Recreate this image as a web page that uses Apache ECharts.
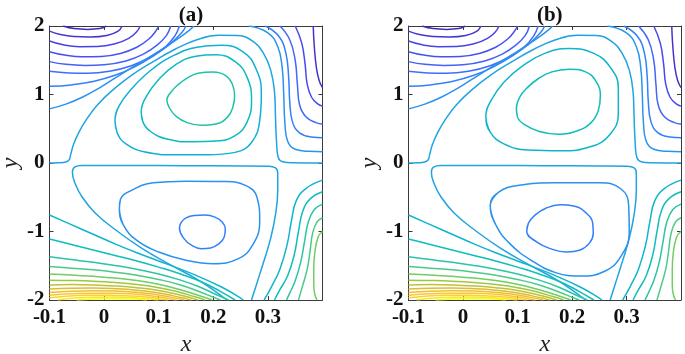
<!DOCTYPE html>
<html><head><meta charset="utf-8">
<script src="https://cdn.jsdelivr.net/npm/echarts@6/dist/echarts.min.js"></script>
<style>html,body{margin:0;padding:0;background:#fff}#c{width:685px;height:354px}</style>
</head><body><div id="c"></div>
<script>
// ---- axis ticks ----
const xTicks = [-0.1, 0, 0.1, 0.2, 0.3];
const yTicks = [-2, -1, 0, 1, 2];
const panelTitles = ['(a)', '(b)'];

// ---- contour lines: [x, y] points ----
// top-left family (around the minimum above the top-left corner)
const tl0 = [[-0.075,2],[-0.055,1.962],[-0.03,1.95],[-0.008,1.962],[0.004,2]];
const tl1 = [[-0.1,1.925],[-0.08,1.875],[-0.055,1.845],[-0.025,1.838],[0.005,1.86],[0.025,1.92],[0.033,2]];
const tl2 = [[-0.1,1.78],[-0.075,1.725],[-0.045,1.698],[-0.012,1.7],[0.02,1.74],[0.045,1.82],[0.06,1.92],[0.066,2]];
const tl3 = [[-0.1,1.625],[-0.072,1.575],[-0.04,1.55],[-0.005,1.555],[0.03,1.6],[0.06,1.69],[0.082,1.81],[0.095,1.93],[0.1,2]];
const tl4 = [[-0.1,1.48],[-0.07,1.44],[-0.035,1.425],[0.0,1.435],[0.04,1.49],[0.072,1.59],[0.097,1.72],[0.114,1.86],[0.122,2]];
const tl5 = [[-0.1,1.34],[-0.065,1.315],[-0.03,1.31],[0.01,1.34],[0.05,1.42],[0.085,1.55],[0.113,1.7],[0.13,1.86],[0.138,2]];
const tl6 = [[-0.1,1.12],[-0.06,1.14],[-0.02,1.19],[0.02,1.28],[0.055,1.4],[0.09,1.56],[0.12,1.73],[0.142,1.9],[0.15,2]];
const tl7 = [[-0.1,0.79],[-0.07,0.86],[-0.04,0.96],[-0.01,1.09],[0.02,1.24],[0.05,1.39],[0.08,1.53],[0.11,1.68],[0.14,1.84],[0.158,1.95],[0.164,2]];
// upper separatrix-like line
const upSep = [[-0.1,0],[-0.083,0.003],[-0.07,0.014],[-0.064,0.045],[-0.061,0.13],[-0.056,0.27],[-0.046,0.45],[-0.032,0.64],[-0.012,0.85],[0.015,1.06],[0.05,1.28],[0.09,1.48],[0.13,1.66],[0.17,1.8],[0.21,1.865],[0.245,1.86],[0.272,1.78],[0.292,1.6],[0.305,1.36],[0.312,1.05],[0.314,0.65],[0.316,0.28],[0.319,0.08],[0.327,0.018],[0.345,0.003],[0.4,0]];
// upper closed loops (a)
const aUp3 = [[0.02,0.62],[0.028,0.84],[0.05,1.08],[0.085,1.35],[0.125,1.56],[0.17,1.69],[0.215,1.72],[0.255,1.62],[0.278,1.38],[0.288,1.02],[0.285,0.62],[0.27,0.3],[0.24,0.155],[0.19,0.12],[0.13,0.12],[0.075,0.16],[0.04,0.28],[0.024,0.44]];
const aUp2 = [[0.068,0.75],[0.078,0.98],[0.1,1.22],[0.13,1.43],[0.168,1.56],[0.205,1.58],[0.24,1.48],[0.262,1.25],[0.27,0.92],[0.262,0.6],[0.24,0.4],[0.205,0.32],[0.16,0.31],[0.115,0.35],[0.085,0.46],[0.071,0.6]];
const aUp1 = [[0.115,0.92],[0.122,1.03],[0.135,1.14],[0.152,1.24],[0.172,1.31],[0.2,1.33],[0.222,1.28],[0.235,1.15],[0.239,0.98],[0.236,0.82],[0.226,0.67],[0.205,0.57],[0.178,0.55],[0.152,0.59],[0.132,0.68],[0.12,0.8]];
// top-right family
const tr1 = [[0.383,2],[0.385,1.7],[0.389,1.38],[0.394,1.2],[0.4,1.1]];
const tr2 = [[0.35,2],[0.362,1.75],[0.368,1.45],[0.372,1.15],[0.38,0.96],[0.392,0.86],[0.4,0.83]];
const tr3 = [[0.322,2],[0.34,1.8],[0.35,1.5],[0.354,1.15],[0.358,0.85],[0.37,0.67],[0.388,0.59],[0.4,0.57]];
const tr4 = [[0.295,2],[0.32,1.85],[0.333,1.6],[0.338,1.25],[0.34,0.9],[0.345,0.6],[0.358,0.44],[0.38,0.38],[0.4,0.37]];
const tr5 = [[0.265,2],[0.3,1.9],[0.318,1.7],[0.326,1.4],[0.329,1.0],[0.331,0.6],[0.336,0.32],[0.35,0.2],[0.375,0.17],[0.4,0.165]];
// lower separatrix-like line (open at the bottom)
const loSep = [[0.225,-2],[0.175,-1.72],[0.12,-1.48],[0.07,-1.25],[0.025,-1.0],[-0.015,-0.74],[-0.04,-0.5],[-0.053,-0.3],[-0.058,-0.14],[-0.054,-0.06],[-0.04,-0.038],[0.05,-0.035],[0.15,-0.04],[0.25,-0.043],[0.3,-0.048],[0.314,-0.07],[0.318,-0.15],[0.318,-0.4],[0.314,-0.75],[0.305,-1.1],[0.292,-1.45],[0.28,-1.75],[0.27,-2]];
// lower closed loops (a)
const aLo2 = [[0.028,-0.66],[0.035,-0.9],[0.06,-1.13],[0.1,-1.3],[0.15,-1.42],[0.2,-1.47],[0.245,-1.4],[0.272,-1.2],[0.285,-0.85],[0.28,-0.5],[0.26,-0.33],[0.22,-0.27],[0.15,-0.265],[0.09,-0.29],[0.05,-0.4],[0.03,-0.53]];
const aLo1 = [[0.138,-0.95],[0.141,-0.87],[0.15,-0.8],[0.165,-0.765],[0.185,-0.76],[0.203,-0.79],[0.216,-0.86],[0.222,-0.96],[0.22,-1.08],[0.21,-1.18],[0.195,-1.24],[0.178,-1.25],[0.16,-1.2],[0.146,-1.1]];
// bottom-left fan (around the maximum at the bottom edge)
const bl9  = [[-0.1,-0.76],[-0.06,-0.9],[-0.02,-1.04],[0.02,-1.18],[0.06,-1.31],[0.1,-1.43],[0.14,-1.55],[0.18,-1.68],[0.215,-1.81],[0.24,-1.92],[0.255,-2]];
const bl10 = [[-0.1,-1.11],[-0.06,-1.19],[-0.02,-1.27],[0.02,-1.35],[0.06,-1.43],[0.1,-1.52],[0.14,-1.62],[0.18,-1.74],[0.212,-1.87],[0.24,-2]];
const bl11 = [[-0.1,-1.37],[-0.06,-1.41],[-0.02,-1.45],[0.02,-1.495],[0.06,-1.55],[0.1,-1.62],[0.14,-1.71],[0.175,-1.81],[0.205,-1.92],[0.228,-2]];
const bl12 = [[-0.1,-1.51],[-0.06,-1.535],[-0.02,-1.56],[0.02,-1.595],[0.06,-1.64],[0.1,-1.7],[0.14,-1.78],[0.175,-1.88],[0.2,-1.96],[0.213,-2]];
const bl13 = [[-0.1,-1.62],[-0.06,-1.635],[-0.02,-1.655],[0.02,-1.68],[0.06,-1.715],[0.1,-1.77],[0.135,-1.84],[0.168,-1.92],[0.198,-2]];
const bl14 = [[-0.1,-1.71],[-0.06,-1.715],[-0.02,-1.725],[0.02,-1.745],[0.06,-1.775],[0.1,-1.82],[0.135,-1.88],[0.165,-1.95],[0.185,-2]];
const bl15 = [[-0.1,-1.78],[-0.06,-1.775],[-0.02,-1.78],[0.02,-1.795],[0.06,-1.82],[0.1,-1.86],[0.133,-1.915],[0.16,-1.97],[0.172,-2]];
const bl16 = [[-0.1,-1.84],[-0.06,-1.828],[-0.02,-1.826],[0.02,-1.835],[0.06,-1.856],[0.095,-1.89],[0.127,-1.94],[0.152,-1.985],[0.16,-2]];
const bl17 = [[-0.1,-1.89],[-0.06,-1.872],[-0.02,-1.866],[0.02,-1.87],[0.058,-1.886],[0.092,-1.915],[0.122,-1.958],[0.147,-2]];
const bl18 = [[-0.1,-1.93],[-0.06,-1.91],[-0.02,-1.9],[0.02,-1.902],[0.055,-1.914],[0.088,-1.94],[0.115,-1.975],[0.133,-2]];
const bl19 = [[-0.1,-1.968],[-0.07,-1.945],[-0.03,-1.932],[0.01,-1.93],[0.048,-1.94],[0.082,-1.96],[0.108,-1.99],[0.117,-2]];
const bl20 = [[-0.085,-2],[-0.06,-1.975],[-0.02,-1.96],[0.02,-1.958],[0.055,-1.966],[0.085,-1.985],[0.1,-2]];
const bl21 = [[-0.05,-2],[-0.02,-1.985],[0.02,-1.98],[0.055,-1.986],[0.078,-2]];
// bottom-right family (around the maximum beyond the right edge)
const br9  = [[0.4,-0.25],[0.37,-0.37],[0.352,-0.55],[0.343,-0.85],[0.335,-1.2],[0.322,-1.55],[0.307,-1.8],[0.293,-2]];
const br10 = [[0.4,-0.42],[0.378,-0.52],[0.364,-0.7],[0.356,-1.0],[0.348,-1.35],[0.336,-1.65],[0.322,-1.85],[0.312,-2]];
const br11 = [[0.4,-0.6],[0.385,-0.68],[0.374,-0.86],[0.367,-1.15],[0.36,-1.45],[0.35,-1.72],[0.34,-1.9],[0.334,-2]];
const br12 = [[0.4,-0.8],[0.39,-0.86],[0.382,-1.02],[0.377,-1.3],[0.372,-1.55],[0.364,-1.78],[0.356,-2]];
const br13 = [[0.4,-1.0],[0.392,-1.08],[0.386,-1.3],[0.384,-1.55],[0.384,-1.78],[0.386,-1.92],[0.39,-2]];

// panel (b): the inner loops differ
const bUp2 = [[0.042,0.68],[0.052,0.92],[0.075,1.18],[0.11,1.42],[0.15,1.6],[0.195,1.67],[0.24,1.6],[0.27,1.4],[0.285,1.1],[0.285,0.72],[0.27,0.42],[0.235,0.24],[0.18,0.18],[0.12,0.19],[0.075,0.28],[0.05,0.45]];
const bUp1 = [[0.098,0.8],[0.104,0.96],[0.118,1.1],[0.138,1.23],[0.163,1.33],[0.195,1.37],[0.225,1.33],[0.245,1.18],[0.252,0.98],[0.248,0.76],[0.235,0.59],[0.21,0.47],[0.175,0.42],[0.14,0.46],[0.113,0.56],[0.1,0.67]];
const bLo2 = [[0.05,-0.62],[0.06,-0.9],[0.085,-1.17],[0.125,-1.42],[0.17,-1.6],[0.215,-1.65],[0.26,-1.58],[0.29,-1.36],[0.305,-1.0],[0.304,-0.62],[0.29,-0.38],[0.25,-0.29],[0.17,-0.29],[0.1,-0.33],[0.065,-0.43]];
const bLo1 = [[0.117,-1.0],[0.12,-0.88],[0.132,-0.76],[0.152,-0.66],[0.178,-0.61],[0.205,-0.63],[0.226,-0.73],[0.238,-0.88],[0.239,-1.03],[0.232,-1.17],[0.215,-1.27],[0.19,-1.3],[0.16,-1.25],[0.135,-1.15]];

// [line, colour position on the colour map (0 = lowest level, 1 = highest), closed?]
const common = [
  [tl0,0.02],[tl1,0.06],[tl2,0.1],[tl3,0.14],[tl4,0.18],[tl5,0.22],[tl6,0.27],[tl7,0.32],[upSep,0.38],
  [tr1,0.05],[tr2,0.12],[tr3,0.2],[tr4,0.27],[tr5,0.33],
  [loSep,0.38],
  [bl9,0.45],[bl10,0.5],[bl11,0.55],[bl12,0.6],[bl13,0.65],[bl14,0.7],[bl15,0.74],[bl16,0.78],[bl17,0.82],[bl18,0.86],[bl19,0.9],[bl20,0.95],[bl21,1.0],
  [br9,0.45],[br10,0.5],[br11,0.55],[br12,0.6],[br13,0.65]
];
const panelA = common.concat([[aUp3,0.43,1],[aUp2,0.48,1],[aUp1,0.53,1],[aLo2,0.32,1],[aLo1,0.27,1]]);
const panelB = common.concat([[bUp2,0.45,1],[bUp1,0.5,1],[bLo2,0.32,1],[bLo1,0.27,1]]);

// MATLAB parula colour stops (style): [position, r, g, b]
const parula = [[0,0.2422,0.1504,0.6603],[5,0.2751,0.2342,0.8710],[9,0.2810,0.3228,0.9579],[14,0.2440,0.4358,0.9988],[18,0.1786,0.5289,0.9682],[23,0.1380,0.6276,0.8973],[27,0.0689,0.6948,0.8394],[31,0.0433,0.7411,0.7394],[36,0.2161,0.7843,0.5923],[41,0.4456,0.8024,0.3909],[45,0.6720,0.7793,0.2227],[50,0.9035,0.7330,0.1774],[54,0.9970,0.7659,0.2199],[59,0.9610,0.8890,0.1537],[63,0.9769,0.9839,0.0805]];
function parulaColor(t){
  const p=Math.max(0,Math.min(1,t))*63;
  let i=0; while(i<parula.length-2 && parula[i+1][0]<p) i++;
  const a=parula[i], b=parula[i+1], f=(p-a[0])/(b[0]-a[0]);
  const c=[1,2,3].map(k=>Math.round(255*(a[k]+(b[k]-a[k])*f)));
  return 'rgb('+c.join(',')+')';
}
// closed loops: wrap points on each side so the smoothing has no corner at the seam
function wrap(pts,closed){
  if(!closed) return pts;
  const n=pts.length;
  return [pts[n-1]].concat(pts,[pts[0],pts[1]]);
}

const grids=[{left:49.5,top:26,width:273,height:274},{left:408.5,top:26,width:272.5,height:274}];
grids.forEach(g=>{g.containLabel=false;g.outerBoundsMode='none';});
const font='"Liberation Serif","Times New Roman",serif';
const opt={animation:false,title:[],grid:grids,xAxis:[],yAxis:[],series:[]};
[panelA,panelB].forEach((lines,gi)=>{
  const g=grids[gi];
  opt.title.push({text:panelTitles[gi],left:g.left+g.width/2,top:0,textAlign:'center',
    textStyle:{fontFamily:font,fontWeight:'bold',fontSize:21,color:'#111'}});
  const axBase={axisLine:{show:true,onZero:false,lineStyle:{color:'#3a3a3a',width:1}},
    axisTick:{show:true,inside:true,length:4,lineStyle:{color:'#3a3a3a'}},splitLine:{show:false}};
  opt.xAxis.push(Object.assign({type:'value',gridIndex:gi,min:-0.1,max:0.4,interval:0.1,
    axisLabel:{fontFamily:font,fontWeight:'bold',fontSize:21,color:'#111',margin:7,
      formatter:v=>xTicks.some(t=>Math.abs(t-v)<1e-9)?String(Math.round(v*10)/10):''},
    name:'x',nameLocation:'middle',nameGap:30,
    nameTextStyle:{fontFamily:font,fontStyle:'italic',fontSize:24,color:'#222'}},axBase));
  opt.xAxis.push(Object.assign({type:'value',gridIndex:gi,min:-0.1,max:0.4,interval:0.1,position:'top',
    axisLabel:{show:false}},axBase));
  opt.yAxis.push(Object.assign({type:'value',gridIndex:gi,min:-2,max:2,interval:1,
    axisLabel:{fontFamily:font,fontWeight:'bold',fontSize:21,color:'#111',margin:5,
      formatter:v=>yTicks.includes(v)?String(v):''},
    name:'y',nameLocation:'middle',nameGap:26,nameRotate:90,
    nameTextStyle:{fontFamily:font,fontStyle:'italic',fontSize:24,color:'#222'}},axBase));
  opt.yAxis.push(Object.assign({type:'value',gridIndex:gi,min:-2,max:2,interval:1,position:'right',
    axisLabel:{show:false}},axBase));
  lines.forEach(([pts,t,closed])=>{
    opt.series.push({type:'line',xAxisIndex:gi*2,yAxisIndex:gi*2,data:wrap(pts,closed),smooth:0.45,
      showSymbol:false,silent:true,clip:true,
      lineStyle:{width:1.5,color:parulaColor(t)}});
  });
});
const chart=echarts.init(document.getElementById('c'),null,{renderer:'canvas'});
chart.setOption(opt);
</script></body></html>
